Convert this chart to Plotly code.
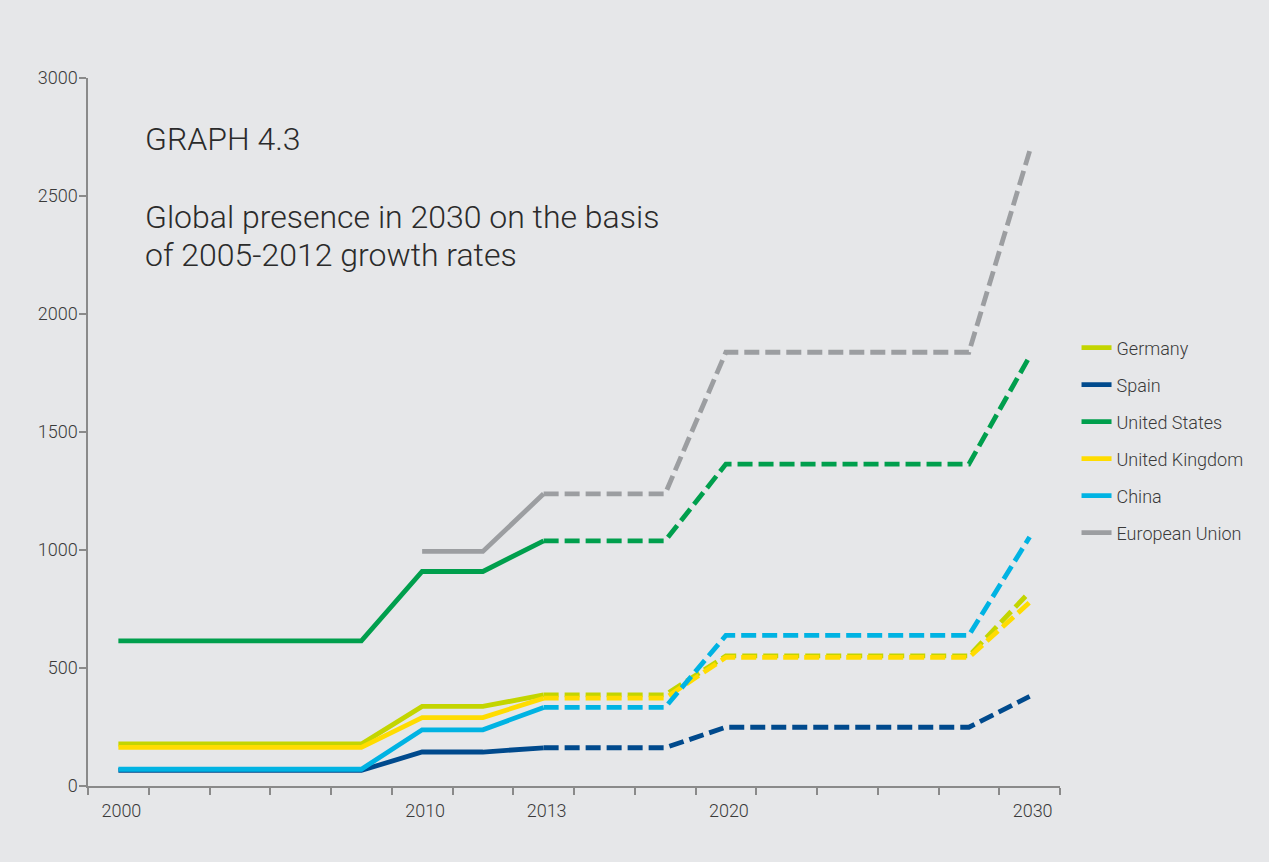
import plotly.graph_objects as go

categories = ["2000", "", "", "", "", "2010", "", "2013", "", "", "2020", "", "", "", "", "2030"]
last_actual = 7  # index of 2013: solid up to here, dashed projection afterwards

series_names = ["Germany", "Spain", "United States", "United Kingdom", "China", "European Union"]
germany = [178, 178, 178, 178, 178, 337, 337, 386, 386, 386, 551, 551, 551, 551, 551, 822]
spain = [66, 66, 66, 66, 66, 144, 144, 162, 162, 162, 249, 249, 249, 249, 249, 380]
united_states = [615, 615, 615, 615, 615, 909, 909, 1039, 1039, 1039, 1364, 1364, 1364, 1364, 1364, 1820]
united_kingdom = [164, 164, 164, 164, 164, 290, 290, 372, 372, 372, 545, 545, 545, 545, 545, 778]
china = [71, 71, 71, 71, 71, 238, 238, 333, 333, 333, 638, 638, 638, 638, 638, 1055]
european_union = [None, None, None, None, None, 994, 994, 1238, 1238, 1238, 1838, 1838, 1838, 1838, 1838, 2690]
series_values = [germany, spain, united_states, united_kingdom, china, european_union]
colors = ["#c3d500", "#004a8d", "#009f4d", "#ffdc00", "#00b3e3", "#9c9ea1"]

y_ticks = [0, 500, 1000, 1500, 2000, 2500, 3000]

title_text = "GRAPH 4.3"
subtitle_lines = ["Global presence in 2030 on the basis", "of 2005-2012 growth rates"]

FONT = "Roboto"
TXT = "#3a3a3a"
BG = "#e6e7e9"

W, H = 1261, 854
L, R, T, B = 80, 209, 70, 76
PW, PH = W - L - R, H - T - B


def px_x(x):
    return (x - L) / PW


def px_y(y):
    return (H - B - y) / PH


idx = list(range(len(categories)))
fig = go.Figure()
for name, vals, col in zip(series_names, series_values, colors):
    fig.add_trace(go.Scatter(
        x=idx[:last_actual + 1], y=vals[:last_actual + 1], mode="lines", name=name,
        legendgroup=name, line=dict(color=col, width=4.8), hoverinfo="skip"))
for name, vals, col in zip(series_names, series_values, colors):
    fig.add_trace(go.Scatter(
        x=idx[last_actual:], y=vals[last_actual:], mode="lines", name=name,
        legendgroup=name, showlegend=False, line=dict(color=col, width=4.8, dash="15px,6px"),
        hoverinfo="skip"))

annotations = [
    dict(text=title_text, xref="paper", yref="paper", x=px_x(135), y=px_y(110),
         xanchor="left", yanchor="top", showarrow=False, align="left",
         font=dict(family=FONT, size=32, color="#2b2b2b", weight=300)),
]
for i, line in enumerate(subtitle_lines):
    annotations.append(dict(
        text=line, xref="paper", yref="paper", x=px_x(135), y=px_y(188 + 37.7 * i),
        xanchor="left", yanchor="top", showarrow=False, align="left",
        font=dict(family=FONT, size=32, color="#2b2b2b", weight=300)))

fig.update_layout(
    width=W, height=H,
    paper_bgcolor=BG, plot_bgcolor=BG,
    margin=dict(l=L, r=R, t=T, b=B),
    font=dict(family=FONT, size=18, color=TXT, weight=300),
    showlegend=True,
    legend=dict(x=1.017, xanchor="left", y=0.645, yanchor="top",
                bgcolor="rgba(0,0,0,0)", tracegroupgap=10.6,
                font=dict(family=FONT, size=18, color=TXT, weight=300)),
    xaxis=dict(range=[-0.5, 15.5], tickmode="array", tickvals=idx, ticktext=categories,
               showgrid=False, zeroline=False, showline=True, linecolor="#8a8a8a", linewidth=1.5,
               ticks="outside", ticklen=8, tickcolor="rgba(0,0,0,0)", ticklabelshift=3,
               minor=dict(tickmode="array", tickvals=[i - 0.5 for i in range(len(categories) + 1)],
                          ticks="outside", ticklen=7, tickcolor="#8a8a8a", tickwidth=1.5, showgrid=False),
               tickfont=dict(family=FONT, size=18, color=TXT, weight=300), fixedrange=True),
    yaxis=dict(range=[0, 3000], tickmode="array", tickvals=y_ticks, ticktext=[str(v) for v in y_ticks],
               showgrid=False, zeroline=False, showline=True, linecolor="#8a8a8a", linewidth=1.5,
               ticks="outside", ticklen=7, tickcolor="#8a8a8a", tickwidth=1.5, ticklabelstandoff=-2,
               tickfont=dict(family=FONT, size=18, color=TXT, weight=300), fixedrange=True),
    annotations=annotations,
)

fig.write_html(
    "out.html",
    post_script="document.body.style.backgroundColor='%s';document.documentElement.style.backgroundColor='%s';" % (BG, BG),
)
